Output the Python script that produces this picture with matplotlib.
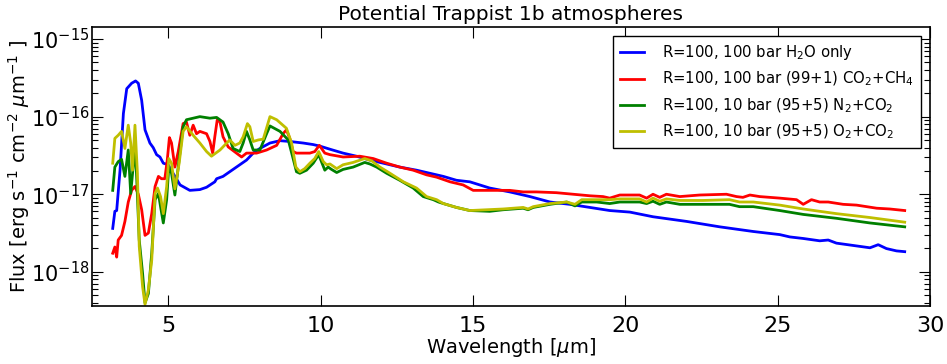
import numpy as np
import matplotlib
matplotlib.use("Agg")
import matplotlib.pyplot as plt
from matplotlib.ticker import FixedLocator, NullFormatter

# ---- data (wavelength in micron, log10 of flux in erg s^-1 cm^-2 um^-1) ----
wl_h2o = [3.18, 3.25, 3.31, 3.42, 3.53, 3.64, 3.80, 3.93, 4.02, 4.13, 4.24, 4.40, 4.51, 4.62,
          4.73, 4.84, 5.00, 5.16, 5.39, 5.71, 6.04, 6.26, 6.53, 6.59, 6.80, 7.02, 7.24, 7.57,
          7.79, 8.01, 8.34, 8.67, 8.99, 9.43, 9.76, 9.98, 10.31, 10.74, 11.18, 11.62, 12.06,
          12.60, 13.15, 13.59, 14.03, 14.46, 14.90, 15.55, 16.21, 16.87, 17.53, 18.18, 18.84,
          19.49, 20.15, 20.91, 22.01, 23.10, 24.20, 25.07, 25.40, 25.84, 26.38, 26.66, 26.93,
          27.48, 28.03, 28.30, 28.57, 28.90, 29.17]
logf_h2o = [-17.44, -17.22, -17.21, -16.69, -15.96, -15.64, -15.57, -15.54, -15.57, -15.79,
            -16.17, -16.34, -16.40, -16.49, -16.52, -16.60, -16.62, -16.73, -16.88, -16.95,
            -16.94, -16.91, -16.84, -16.80, -16.77, -16.71, -16.65, -16.56, -16.47, -16.41,
            -16.34, -16.31, -16.32, -16.34, -16.36, -16.38, -16.42, -16.47, -16.51, -16.56,
            -16.60, -16.65, -16.69, -16.73, -16.77, -16.82, -16.84, -16.92, -16.97, -17.03,
            -17.10, -17.13, -17.17, -17.21, -17.23, -17.29, -17.35, -17.42, -17.48, -17.52,
            -17.55, -17.57, -17.60, -17.59, -17.63, -17.66, -17.69, -17.65, -17.70, -17.73,
            -17.74]

wl_co2ch4 = [3.18, 3.25, 3.31, 3.36, 3.47, 3.58, 3.69, 3.80, 3.91, 4.02, 4.13, 4.24, 4.35,
             4.46, 4.57, 4.68, 4.78, 4.89, 4.97, 5.04, 5.11, 5.22, 5.33, 5.49, 5.60, 5.71,
             5.82, 5.93, 6.04, 6.26, 6.37, 6.46, 6.53, 6.61, 6.70, 6.80, 6.97, 7.24, 7.41,
             7.57, 7.90, 8.23, 8.56, 8.77, 8.88, 8.99, 9.10, 9.21, 9.65, 9.81, 9.96, 10.14,
             10.31, 10.74, 11.29, 11.73, 12.17, 12.60, 13.04, 13.48, 13.81, 14.25, 14.68,
             15.01, 15.55, 16.21, 16.65, 17.09, 17.74, 18.29, 18.84, 19.27, 19.49, 19.82,
             20.47, 20.70, 20.91, 21.13, 21.35, 21.79, 22.44, 23.32, 23.65, 23.86, 24.09,
             24.41, 25.07, 25.62, 25.84, 26.11, 26.38, 26.66, 27.15, 27.59, 28.25, 28.68,
             29.17]
logf_co2ch4 = [-17.76, -17.68, -17.81, -17.59, -17.53, -17.35, -17.10, -16.95, -16.90,
               -17.00, -17.20, -17.53, -17.50, -17.25, -16.90, -16.77, -16.80, -16.80,
               -16.56, -16.27, -16.34, -16.65, -16.45, -16.09, -16.07, -16.24, -16.11,
               -16.22, -16.19, -16.22, -16.32, -16.47, -16.26, -16.04, -16.07, -16.26,
               -16.39, -16.47, -16.52, -16.47, -16.47, -16.43, -16.37, -16.22, -16.17,
               -16.28, -16.45, -16.47, -16.47, -16.45, -16.37, -16.47, -16.49, -16.52,
               -16.51, -16.54, -16.60, -16.65, -16.69, -16.75, -16.78, -16.84, -16.88,
               -16.95, -16.95, -16.95, -16.97, -16.97, -16.98, -17.00, -17.02, -17.03,
               -17.05, -17.01, -17.01, -17.05, -17.00, -17.04, -17.00, -17.03, -17.01,
               -17.00, -17.03, -17.04, -17.01, -17.03, -17.05, -17.07, -17.13, -17.07,
               -17.10, -17.10, -17.13, -17.14, -17.18, -17.19, -17.21]

wl_n2co2 = [3.18, 3.25, 3.36, 3.47, 3.58, 3.69, 3.77, 3.85, 3.91, 3.96, 4.05, 4.16, 4.24,
            4.35, 4.46, 4.57, 4.68, 4.75, 4.84, 4.95, 5.02, 5.11, 5.22, 5.33, 5.49, 5.60,
            6.04, 6.37, 6.59, 6.80, 6.97, 7.13, 7.35, 7.46, 7.57, 7.68, 7.79, 8.01, 8.23,
            8.34, 8.67, 8.94, 9.10, 9.21, 9.32, 9.54, 9.76, 9.94, 10.03, 10.14, 10.25,
            10.36, 10.53, 10.74, 11.07, 11.45, 11.62, 11.84, 12.17, 12.60, 13.04, 13.37,
            13.70, 13.87, 14.03, 14.46, 14.90, 15.55, 15.99, 16.65, 16.81, 16.98, 17.53,
            18.08, 18.35, 18.57, 19.06, 19.49, 19.82, 20.47, 20.70, 20.91, 21.13, 21.35,
            21.79, 22.55, 23.42, 23.75, 24.20, 25.07, 25.84, 26.93, 28.03, 29.17]
logf_n2co2 = [-16.95, -16.65, -16.58, -16.55, -16.77, -16.43, -16.99, -16.65, -16.41,
              -16.73, -17.59, -18.02, -18.40, -18.28, -17.76, -17.07, -16.99, -17.16,
              -17.37, -17.07, -16.65, -16.73, -17.01, -16.65, -16.13, -16.04, -16.00,
              -16.02, -16.01, -16.07, -16.22, -16.41, -16.45, -16.34, -16.19, -16.30,
              -16.43, -16.43, -16.22, -16.12, -16.19, -16.30, -16.54, -16.71, -16.73,
              -16.69, -16.60, -16.49, -16.58, -16.69, -16.65, -16.68, -16.72, -16.68,
              -16.65, -16.59, -16.61, -16.65, -16.73, -16.82, -16.92, -17.03, -17.07,
              -17.10, -17.12, -17.17, -17.21, -17.22, -17.20, -17.18, -17.20, -17.17,
              -17.13, -17.10, -17.15, -17.10, -17.10, -17.12, -17.10, -17.10, -17.12,
              -17.09, -17.13, -17.10, -17.13, -17.13, -17.13, -17.16, -17.16, -17.21,
              -17.26, -17.31, -17.37, -17.42]

wl_o2co2 = [3.18, 3.25, 3.36, 3.47, 3.58, 3.69, 3.77, 3.83, 3.91, 3.99, 4.05, 4.16, 4.24,
            4.35, 4.46, 4.57, 4.65, 4.75, 4.84, 4.95, 5.02, 5.11, 5.22, 5.36, 5.49, 5.60,
            5.82, 6.04, 6.26, 6.42, 6.70, 7.02, 7.19, 7.35, 7.46, 7.60, 7.68, 7.79, 7.96,
            8.12, 8.34, 8.56, 8.88, 9.05, 9.19, 9.32, 9.48, 9.65, 9.81, 9.94, 10.09, 10.20,
            10.31, 10.53, 10.74, 11.07, 11.45, 11.68, 11.95, 12.28, 12.72, 13.15, 13.48,
            13.81, 14.03, 14.46, 14.90, 15.99, 16.65, 16.81, 16.98, 17.53, 18.08, 18.35,
            18.57, 19.06, 19.49, 19.82, 20.47, 20.70, 20.91, 21.13, 21.35, 21.79, 22.55,
            23.42, 23.75, 24.20, 25.07, 25.84, 26.93, 28.03, 29.17]
logf_o2co2 = [-16.60, -16.28, -16.24, -16.19, -16.41, -16.11, -16.34, -16.69, -16.11,
              -16.73, -17.67, -18.19, -18.42, -18.23, -17.85, -16.99, -16.92, -17.03,
              -17.25, -16.90, -16.54, -16.60, -16.93, -16.60, -16.19, -16.13, -16.24,
              -16.34, -16.45, -16.51, -16.43, -16.30, -16.37, -16.34, -16.26, -16.09,
              -16.13, -16.32, -16.30, -16.29, -16.00, -16.04, -16.15, -16.34, -16.65,
              -16.71, -16.67, -16.60, -16.54, -16.45, -16.58, -16.62, -16.61, -16.67,
              -16.62, -16.59, -16.54, -16.57, -16.65, -16.73, -16.84, -16.92, -17.03,
              -17.07, -17.12, -17.17, -17.21, -17.19, -17.17, -17.19, -17.16, -17.12,
              -17.10, -17.13, -17.07, -17.07, -17.07, -17.06, -17.06, -17.10, -17.05,
              -17.09, -17.06, -17.08, -17.08, -17.07, -17.10, -17.10, -17.14, -17.19,
              -17.25, -17.30, -17.36]

labels = [r"R=100, 100 bar H$_2$O only",
          r"R=100, 100 bar (99+1) CO$_2$+CH$_4$",
          r"R=100, 10 bar (95+5) N$_2$+CO$_2$",
          r"R=100, 10 bar (95+5) O$_2$+CO$_2$"]
colors = ["#0000ff", "#ff0000", "#008000", "#bfbf00"]
x_ticks = [5, 10, 15, 20, 25, 30]
y_decades = [-18, -17, -16, -15]

plt.rcParams["axes.unicode_minus"] = False
plt.rcParams["mathtext.fontset"] = "dejavusans"
plt.rcParams["font.family"] = ["DejaVu Sans"]

fig = plt.figure(figsize=(9.47, 3.64), dpi=100)
ax = fig.add_axes([92 / 947, 58 / 364, (930 - 92) / 947, (306 - 27) / 364])

series = [(wl_h2o, logf_h2o), (wl_co2ch4, logf_co2ch4),
          (wl_n2co2, logf_n2co2), (wl_o2co2, logf_o2co2)]
for (wl, lf), lab, c in zip(series, labels, colors):
    ax.plot(wl, 10.0 ** np.asarray(lf), color=c, lw=2, label=lab)

ymin, ymax = 10 ** -18.44, 10 ** -14.845
ax.set_yscale("log")
ax.set_xlim(2.5, 30)
ax.set_ylim(ymin, ymax)
ax.set_xticks(x_ticks)
major = [10.0 ** d for d in y_decades]
minor = [m * 10.0 ** d for d in range(-19, -14) for m in range(2, 10)]
minor = [v for v in minor if ymin <= v <= ymax]
ax.yaxis.set_major_locator(FixedLocator(major))
ax.yaxis.set_minor_locator(FixedLocator(minor))
ax.yaxis.set_major_formatter(matplotlib.ticker.FixedFormatter(
    [r"$\mathdefault{10^{%d}}$" % d for d in y_decades]))
ax.yaxis.set_minor_formatter(NullFormatter())
ax.tick_params(which="both", direction="in", top=True, right=True)
ax.tick_params(axis="x", labelsize=16, pad=7)
ax.tick_params(axis="y", labelsize=15, pad=2)
ax.tick_params(which="major", length=8, width=0.8)
ax.tick_params(which="minor", length=4, width=0.8)
for s in ax.spines.values():
    s.set_linewidth(1.2)

ax.set_title("Potential Trappist 1b atmospheres", fontsize=14.5, pad=5)
ax.set_xlabel(r"Wavelength [$\mu$m]", fontsize=14, labelpad=0)
ax.set_ylabel(r"Flux [erg s$^{-1}$ cm$^{-2}$ $\mu$m$^{-1}$ ]", fontsize=14)
ax.yaxis.set_label_coords(-0.072, 0.5)

leg = ax.legend(loc="upper right", fontsize=10.7, fancybox=False, framealpha=1,
                edgecolor="black", handlelength=1.6, borderpad=0.5, labelspacing=0.52,
                handletextpad=1.2, borderaxespad=0.6)
leg.get_frame().set_linewidth(1.0)

fig.savefig("out.png", dpi=100)
